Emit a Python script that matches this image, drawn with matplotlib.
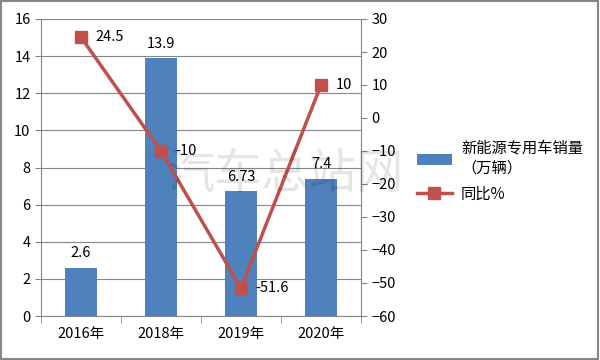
import matplotlib
matplotlib.use("Agg")
import matplotlib.pyplot as plt
from matplotlib.patches import Rectangle

plt.rcParams['font.family'] = ['Noto Sans CJK SC', 'DejaVu Sans']

categories = ['2016年', '2018年', '2019年', '2020年']
sales = [2.6, 13.9, 6.73, 7.4]
sales_labels = ['2.6', '13.9', '6.73', '7.4']
growth = [24.5, -10, -51.6, 10]
growth_labels = ['24.5', '-10', '-51.6', '10']

bar_color = '#4F81BD'
line_color = '#C0504D'

fig = plt.figure(figsize=(6, 3.6), dpi=100)
ax = fig.add_axes([41/600, 1-316/360, 320/600, 297/360])
ax2 = ax.twinx()

x = list(range(len(categories)))
ax.bar(x, sales, width=0.39, color=bar_color, zorder=2, label='新能源专用车销量\n（万辆）')
ax.set_ylim(0, 16)
ax.set_yticks(range(0, 17, 2))
ax.set_xlim(-0.5, 3.5)
ax.set_xticks(x)
ax.set_xticklabels(categories, fontsize=10.5)
ax.tick_params(axis='x', length=0, pad=8)
ax.set_xticks([-0.5, 0.5, 1.5, 2.5, 3.5], minor=True)
ax.tick_params(axis='x', which='minor', length=5, color='#868686')
ax.tick_params(axis='y', length=4, color='#868686', labelsize=10.5)
ax.grid(axis='y', color='#868686', linewidth=0.8, zorder=0)
ax.set_axisbelow(True)
for s in ['top', 'right']:
    ax.spines[s].set_visible(False)
for s in ['left', 'bottom']:
    ax.spines[s].set_color('#868686')

for xi, v, lab in zip(x, sales, sales_labels):
    ax.text(xi, v + 0.4, lab, ha='center', va='bottom', fontsize=10.5, zorder=5)

ax2.plot(x, growth, color=line_color, linewidth=2.5, marker='s', markersize=8, zorder=4, label='同比%')
ax2.set_ylim(-60, 30)
ax2.set_yticks(range(-60, 31, 10))
ax2.tick_params(axis='y', length=4, color='#868686', labelsize=10.5)
for s in ['top', 'left', 'bottom']:
    ax2.spines[s].set_visible(False)
ax2.spines['right'].set_color('#868686')
for xi, v, lab in zip(x, growth, growth_labels):
    ax2.text(xi + 0.18, v, lab, ha='left', va='center', fontsize=10.5, zorder=5)

# watermark
fig.text(285/600, 1-175/360, '汽车总站网', fontsize=34, color='#000000', alpha=0.10,
         ha='center', va='center', fontweight='light')

h1, l1 = ax.get_legend_handles_labels()
h2, l2 = ax2.get_legend_handles_labels()
fig.legend(h1 + h2, l1 + l2, loc='upper left', bbox_to_anchor=(403/600, 1-126/360),
           frameon=False, fontsize=11, handlelength=2.3, labelspacing=0.6,
           handletextpad=0.6)

fig.patches.append(Rectangle((0.002, 0.003), 0.995, 0.993, transform=fig.transFigure,
                             fill=False, edgecolor='#868686', linewidth=1.5))

fig.savefig('out.png', dpi=100)
